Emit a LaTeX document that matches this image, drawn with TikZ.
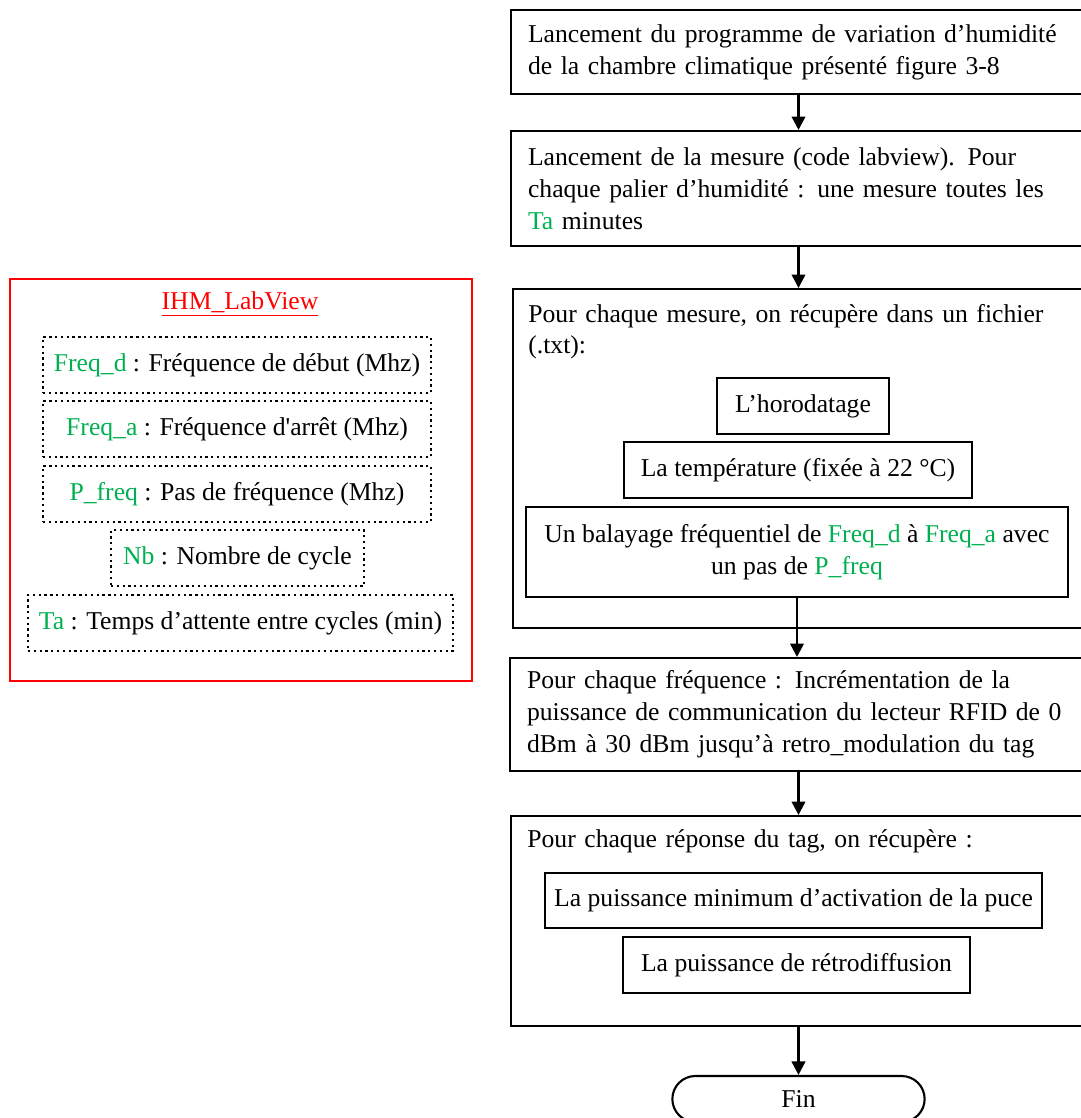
\documentclass[tikz,border=0pt]{standalone}
\usepackage{fontspec}
\setmainfont{Liberation Serif}
\usepackage{xcolor}
\usetikzlibrary{arrows.meta, positioning, shapes.misc, calc}
\definecolor{vert}{RGB}{0,176,80}
\definecolor{rouge}{RGB}{255,0,0}
\newcommand{\gvar}[1]{\textcolor{vert}{#1}}

\begin{document}
\begin{tikzpicture}[
  font=\fontsize{14.6}{18.2}\selectfont,
  stepbox/.style={draw, line width=1.2pt, anchor=north west, minimum width=11.5cm, inner xsep=0.34cm, text width=11.4cm, align=left},
  headtext/.style={anchor=base west, inner sep=0pt, text width=11.2cm, align=left},
  itembox/.style={draw, line width=1.2pt, minimum height=1.12cm, align=center, inner sep=0pt},
  parambox/.style={draw, dotted, line width=1.3pt, minimum height=1.12cm, inner sep=0pt},
  flow/.style={-{Triangle[width=0.27cm,length=0.27cm]}, line width=1.4pt}
]
\useasboundingbox (0,0) rectangle (21.62,-22.36);

% IHM panel
\node[draw=rouge, line width=1.2pt, anchor=north west, minimum width=9.24cm, minimum height=8.04cm, inner sep=0pt] (ihm) at (0.18,-5.56) {};
\node[text=rouge] (titre) at (4.8,-6.08) {\underline{IHM\_LabView}};
\node[parambox, minimum width=7.76cm] (pfd) at (4.74,-7.3) {\gvar{Freq\_d} : Fréquence de début (Mhz)};
\node[parambox, minimum width=7.76cm] (pfa) at (4.74,-8.58) {\gvar{Freq\_a} : Fréquence d\textquotesingle arrêt (Mhz)};
\node[parambox, minimum width=7.76cm] (ppas) at (4.74,-9.88) {\gvar{P\_freq} : Pas de fréquence (Mhz)};
\node[parambox, minimum width=5.06cm] (pnb) at (4.75,-11.16) {\gvar{Nb} : Nombre de cycle};
\node[parambox, minimum width=8.5cm] (pta) at (4.81,-12.46) {\gvar{Ta} : Temps d’attente entre cycles (min)};

% Steps
\node[stepbox, minimum height=1.68cm] (lanc) at (10.2,-0.18) {Lancement du programme de variation d’humidité\\de la chambre climatique présenté figure 3-8};
\node[stepbox, minimum height=2.3cm] (mes) at (10.2,-2.6) {Lancement de la mesure (code labview). Pour\\chaque palier d’humidité : une mesure toutes les\\\gvar{Ta} minutes};

\node[stepbox, minimum height=6.78cm] (fich) at (10.24,-5.76) {};
\node[headtext] (fichtxt) at ($(fich.north west)+(0.32,-0.68)$) {Pour chaque mesure, on récupère dans un fichier\\(.txt):};
\node[itembox, minimum width=3.44cm] (horo) at (16.06,-8.12) {L’horodatage};
\node[itembox, minimum width=6.96cm] (temp) at (15.96,-9.4) {La température (fixée à 22 °C)};
\node[itembox, minimum width=10.84cm, minimum height=1.8cm] (bal) at (15.94,-11.04) {Un balayage fréquentiel de \gvar{Freq\_d} à \gvar{Freq\_a} avec\\un pas de \gvar{P\_freq}};

\node[stepbox, minimum height=2.26cm] (freq) at (10.18,-13.14) {Pour chaque fréquence : Incrémentation de la\\puissance de communication du lecteur RFID de 0\\dBm à 30 dBm jusqu’à retro\_modulation du tag};

\node[stepbox, minimum height=4.2cm] (rep) at (10.2,-16.3) {};
\node[headtext] (reptxt) at ($(rep.north west)+(0.34,-0.64)$) {Pour chaque réponse du tag, on récupère :};
\node[itembox, minimum width=9.94cm, minimum height=1.1cm] (pmin) at (15.87,-18.01) {La puissance minimum d’activation de la puce};
\node[itembox, minimum width=6.94cm] (pret) at (15.93,-19.3) {La puissance de rétrodiffusion};

\node[draw, rounded rectangle, line width=1.2pt, minimum width=5.28cm, minimum height=0.92cm] (fin) at (15.97,-21.98) {Fin};

% Arrows
\draw[flow] (lanc.south -| fin.north) -- (mes.north -| fin.north);
\draw[flow] (mes.south -| fin.north) -- (fich.north -| fin.north);
\draw[flow] (bal.south) -- (bal.south |- freq.north);
\draw[flow] (freq.south -| fin.north) -- (rep.north -| fin.north);
\draw[flow] (rep.south -| fin.north) -- (fin.north);
\end{tikzpicture}
\end{document}
